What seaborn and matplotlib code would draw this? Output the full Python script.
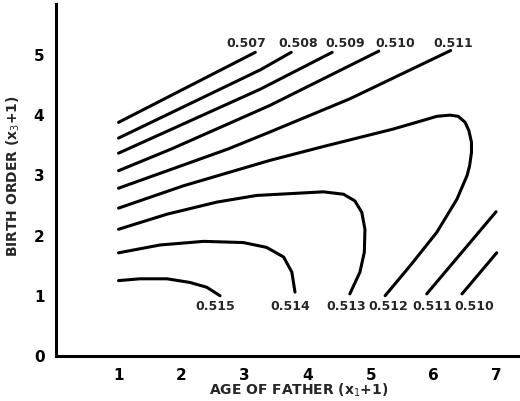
import numpy as np
import pandas as pd
import matplotlib
matplotlib.use('Agg')
import matplotlib.pyplot as plt
import seaborn as sns

sns.set_style('white')
plt.rcParams['font.family'] = ['DejaVu Sans']

# contour lines: (age of father, birth order)
c507 = [(1.00, 3.86), (3.17, 5.02)]
c508 = [(1.00, 3.60), (3.25, 4.73), (3.74, 5.02)]
c509 = [(1.00, 3.35), (3.25, 4.41), (4.39, 5.02)]
c510 = [(1.00, 3.06), (1.84, 3.42), (3.40, 4.14), (5.13, 5.04)]
c511 = [(1.00, 2.77), (2.74, 3.42), (3.40, 3.70), (4.67, 4.25), (6.27, 5.05)]
c512 = [(1.00, 2.44), (2.03, 2.81), (3.40, 3.23), (4.25, 3.46), (5.36, 3.75),
        (5.79, 3.88), (6.05, 3.96), (6.26, 3.98), (6.39, 3.96), (6.50, 3.86),
        (6.56, 3.72), (6.60, 3.53), (6.60, 3.36), (6.57, 3.14), (6.53, 2.98),
        (6.37, 2.59), (6.05, 2.04), (5.63, 1.49), (5.23, 0.99)]
c513 = [(1.00, 2.09), (1.77, 2.34), (2.56, 2.54), (3.19, 2.65), (3.72, 2.68),
        (4.25, 2.71), (4.57, 2.67), (4.75, 2.56), (4.86, 2.37), (4.91, 2.09),
        (4.90, 1.71), (4.83, 1.38), (4.67, 1.02)]
c514 = [(1.00, 1.70), (1.66, 1.83), (2.35, 1.89), (2.98, 1.87), (3.35, 1.79),
        (3.62, 1.63), (3.75, 1.38), (3.80, 1.05)]
c515 = [(1.00, 1.24), (1.34, 1.27), (1.77, 1.27), (2.13, 1.21), (2.40, 1.13),
        (2.61, 0.99)]
c511b = [(5.89, 1.02), (6.99, 2.38)]
c510b = [(6.45, 1.02), (7.00, 1.70)]

lines = [c507, c508, c509, c510, c511, c512, c513, c514, c515, c511b, c510b]

top_labels = ['0.507', '0.508', '0.509', '0.510', '0.511']
top_x = [3.03, 3.85, 4.59, 5.39, 6.31]
bottom_labels = ['0.515', '0.514', '0.513', '0.512', '0.511', '0.510']
bottom_x = [2.53, 3.73, 4.61, 5.28, 5.98, 6.64]

fig = plt.figure(figsize=(5.2, 4.02), dpi=100)
ax = fig.add_axes([55.5/520, 45.5/402, 464.5/520, 351.5/402])

for pts in lines:
    df = pd.DataFrame(pts, columns=['x', 'y'])
    sns.lineplot(data=df, x='x', y='y', sort=False, estimator=None,
                 color='black', linewidth=2.2, ax=ax)

for lab, x in zip(top_labels, top_x):
    ax.text(x, 5.19, lab, ha='center', va='center', fontsize=9, fontweight='bold')
for lab, x in zip(bottom_labels, bottom_x):
    ax.text(x, 0.82, lab, ha='center', va='center', fontsize=9, fontweight='bold')

ax.set_xlim(0, 7.37)
ax.set_ylim(0, 5.82)
ax.set_xticks(range(1, 8))
ax.set_yticks(range(0, 6))
for s in ['top', 'right']:
    ax.spines[s].set_visible(False)
for s in ['left', 'bottom']:
    ax.spines[s].set_linewidth(2.2)
    ax.spines[s].set_color('black')
ax.tick_params(direction='out', length=4, width=1.5, labelsize=11, colors='black', pad=4)
for t in ax.get_xticklabels() + ax.get_yticklabels():
    t.set_fontweight('bold')

ax.set_xlabel('AGE OF FATHER (x$_1$+1)', fontsize=10, fontweight='bold')
ax.set_ylabel('BIRTH ORDER (x$_3$+1)', fontsize=10, fontweight='bold')
ax.xaxis.set_label_coords(0.524, -0.072)
ax.yaxis.set_label_coords(-0.072, 0.514)

fig.savefig('out.png', dpi=100)
